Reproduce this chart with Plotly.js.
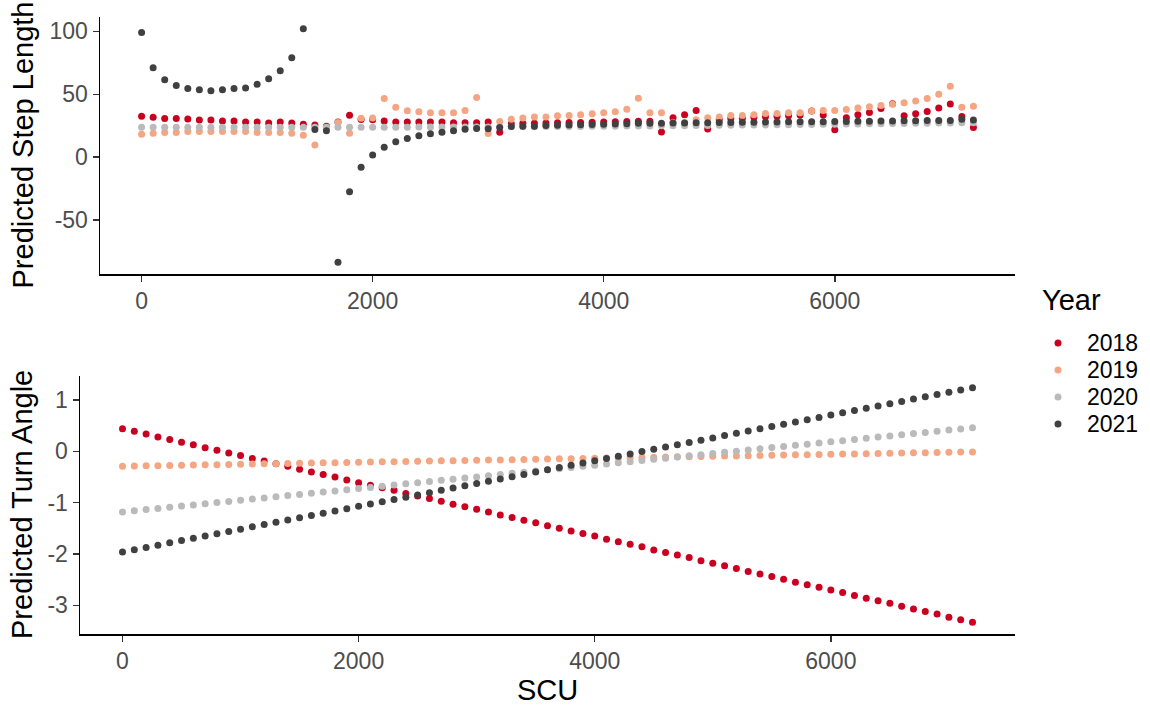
<!DOCTYPE html>
<html>
<head>
<meta charset="utf-8">
<script src="https://cdn.plot.ly/plotly-3.0.1.min.js"></script>
<style>
  html, body { margin: 0; padding: 0; background: #fff; }
  #chart { width: 1150px; height: 708px; }
</style>
</head>
<body>
<div id="chart"></div>
<script>
// SCU grid shared by both panels
const scu = [0,100,200,300,400,500,600,700,800,900,1000,1100,1200,1300,1400,1500,1600,1700,1800,1900,
  2000,2100,2200,2300,2400,2500,2600,2700,2800,2900,3000,3100,3200,3300,3400,3500,3600,3700,3800,3900,
  4000,4100,4200,4300,4400,4500,4600,4700,4800,4900,5000,5100,5200,5300,5400,5500,5600,5700,5800,5900,
  6000,6100,6200,6300,6400,6500,6600,6700,6800,6900,7000,7100,7200];

const years = ['2018', '2019', '2020', '2021'];
const yearColors = ['#CA0020', '#F4A582', '#BABABA', '#404040'];

// Predicted step length by year
const step2018 = [32.6,31.8,30.8,30.8,30.3,29.5,29.5,28.7,28.7,27.9,27.9,27.1,27.9,27.1,26.1,25.5,
  24.5,28.0,33.4,30.0,29.8,28.7,27.9,27.9,27.9,27.9,27.9,27.4,27.4,27.4,27.9,19.8,
  26.5,27.0,27.0,27.2,27.4,27.5,27.6,27.8,28.0,28.2,28.4,28.5,28.6,20.0,31.4,33.7,37.1,22.5,
  30.0,30.8,31.0,31.8,32.2,32.6,33.0,33.6,36.8,33.6,21.9,31.4,33.7,35.6,38.7,42.4,33.0,34.5,36.3,39.1,42.3,32.3,23.5];
const step2019 = [18.2,19.0,19.7,19.7,20.5,20.5,20.5,20.5,20.5,20.5,19.7,19.7,19.7,19.0,17.4,9.7,23.5,
  27.6,19.1,31.0,31.2,46.7,39.6,36.9,36.1,35.3,35.3,35.3,37.2,47.5,18.8,28.4,30.1,31.1,31.9,32.0,33.0,
  33.1,33.7,34.5,35.3,36.2,38.0,46.8,35.3,35.3,
  27.5,27.6,29.8,31.4,31.9,33.2,33.2,33.8,34.7,34.8,35.4,35.4,36.8,37.1,37.1,37.9,39.0,40.0,41.0,42.0,
  43.2,44.6,46.7,50.1,56.3,39.7,40.5];
const step2020 = [23.7,23.7,23.7,23.7,23.7,23.7,23.7,23.7,23.7,23.7,23.7,23.7,23.7,23.7,23.7,23.7,23.7,23.7,23.7,23.7,23.7,
  23.8,23.8,23.8,23.9,23.9,23.9,23.9,24.0,24.0,24.0,
  24.1,24.1,24.2,24.2,24.3,24.3,24.4,24.4,24.5,24.6,
  24.6,24.7,24.8,24.8,24.9,25.0,25.0,25.1,25.2,25.3,
  25.4,25.5,25.5,25.6,25.7,25.8,25.9,26.0,26.1,26.2,
  26.3,26.4,26.5,26.6,26.7,26.8,26.9,27.0,27.1,27.2,27.3,27.4];
const step2021 = [99.0,71.1,61.6,56.9,54.5,53.5,52.7,53.5,54.5,55.0,57.9,62.4,68.7,79.0,102.1,
  22.1,21.1,-83.5,-27.4,-7.9,1.8,7.9,12.2,14.8,17.0,18.6,19.9,21.1,22.2,22.9,22.7,23.6,
  24.3,24.5,24.6,25.1,25.3,25.5,25.8,25.9,26.1,26.4,26.6,26.9,26.9,27.0,27.1,27.2,27.3,27.4,
  27.5,27.6,27.7,27.8,27.9,28.0,28.1,28.1,28.2,28.2,28.3,28.4,28.5,28.6,28.7,28.8,28.9,29.0,29.1,29.2,29.2,30.2,29.6];

// Predicted turn angle by year
const turn2018 = [0.44,0.39,0.34,0.28,0.23,0.18,0.13,0.07,0.02,-0.03,
  -0.08,-0.14,-0.19,-0.24,-0.29,-0.35,-0.40,-0.45,-0.50,-0.56,
  -0.61,-0.66,-0.71,-0.76,-0.82,-0.87,-0.92,-0.97,-1.03,-1.08,
  -1.13,-1.18,-1.24,-1.29,-1.34,-1.39,-1.45,-1.50,-1.55,-1.60,
  -1.65,-1.71,-1.76,-1.81,-1.86,-1.92,-1.97,-2.02,-2.07,-2.13,
  -2.18,-2.23,-2.28,-2.34,-2.39,-2.44,-2.49,-2.55,-2.60,-2.65,
  -2.70,-2.75,-2.81,-2.86,-2.91,-2.96,-3.02,-3.07,-3.12,-3.17,
  -3.23,-3.28,-3.33];
const turn2019 = [-0.290,-0.286,-0.282,-0.278,-0.274,-0.271,-0.267,-0.263,-0.259,-0.255,
  -0.251,-0.247,-0.243,-0.239,-0.236,-0.232,-0.228,-0.224,-0.220,-0.216,
  -0.212,-0.208,-0.204,-0.201,-0.197,-0.193,-0.189,-0.185,-0.181,-0.177,
  -0.173,-0.169,-0.166,-0.162,-0.158,-0.154,-0.150,-0.146,-0.142,-0.138,
  -0.134,-0.131,-0.127,-0.123,-0.119,-0.115,-0.111,-0.107,-0.103,-0.099,
  -0.096,-0.092,-0.088,-0.084,-0.080,-0.076,-0.072,-0.068,-0.064,-0.061,
  -0.057,-0.053,-0.049,-0.045,-0.041,-0.037,-0.033,-0.029,-0.026,-0.022,
  -0.018,-0.014,-0.010];
const turn2020 = [-1.180,-1.157,-1.134,-1.112,-1.089,-1.066,-1.043,-1.021,-0.998,-0.975,
  -0.952,-0.929,-0.907,-0.884,-0.861,-0.838,-0.816,-0.793,-0.770,-0.747,
  -0.724,-0.702,-0.679,-0.656,-0.633,-0.611,-0.588,-0.565,-0.542,-0.519,
  -0.497,-0.474,-0.451,-0.428,-0.406,-0.383,-0.360,-0.337,-0.314,-0.292,
  -0.269,-0.246,-0.223,-0.201,-0.178,-0.155,-0.132,-0.109,-0.087,-0.064,
  -0.041,-0.018,0.004,0.027,0.050,0.073,0.096,0.118,0.141,0.164,
  0.187,0.209,0.232,0.255,0.278,0.301,0.323,0.346,0.369,0.392,
  0.414,0.437,0.460];
const turn2021 = [-1.960,-1.916,-1.871,-1.827,-1.782,-1.738,-1.693,-1.649,-1.604,-1.560,
  -1.516,-1.471,-1.427,-1.382,-1.338,-1.293,-1.249,-1.204,-1.160,-1.116,
  -1.071,-1.027,-0.982,-0.938,-0.893,-0.849,-0.804,-0.760,-0.716,-0.671,
  -0.627,-0.582,-0.538,-0.493,-0.449,-0.404,-0.360,-0.316,-0.271,-0.227,
  -0.182,-0.138,-0.093,-0.049,-0.004,0.040,0.084,0.129,0.173,0.218,
  0.262,0.307,0.351,0.396,0.440,0.484,0.529,0.573,0.618,0.662,
  0.707,0.751,0.796,0.840,0.884,0.929,0.973,1.018,1.062,1.107,
  1.151,1.196,1.240];

// Tick labels
const xTickVals = [0, 2000, 4000, 6000];
const xTickText = ['0', '2000', '4000', '6000'];
const stepTickVals = [-50, 0, 50, 100];
const stepTickText = ['-50', '0', '50', '100'];
const turnTickVals = [-3, -2, -1, 0, 1];
const turnTickText = ['-3', '-2', '-1', '0', '1'];

const stepSeries = [step2018, step2019, step2020, step2021];
const turnSeries = [turn2018, turn2019, turn2020, turn2021];

const W = 1150, H = 708;
const FONT = '"Liberation Sans", Arial, sans-serif';
const TICK_SIZE = 23;
const TITLE_SIZE = 29;

// Padded range (5% each side) around a set of series
function paddedRange(seriesList) {
  const all = [].concat(...seriesList);
  const lo = Math.min(...all), hi = Math.max(...all);
  const pad = (hi - lo) * 0.05;
  return [lo - pad, hi + pad];
}
const xRange = paddedRange([scu]);

const traces = [];
years.forEach((yr, k) => {
  traces.push({
    type: 'scatter', mode: 'markers', x: scu, y: stepSeries[k],
    xaxis: 'x', yaxis: 'y', name: yr, showlegend: false,
    marker: { color: yearColors[k], size: 7, line: { width: 0 } },
    hoverinfo: 'skip'
  });
});
years.forEach((yr, k) => {
  traces.push({
    type: 'scatter', mode: 'markers', x: scu, y: turnSeries[k],
    xaxis: 'x2', yaxis: 'y2', name: yr, showlegend: false,
    marker: { color: yearColors[k], size: 7, line: { width: 0 } },
    hoverinfo: 'skip'
  });
});

function px2x(p) { return p / W; }
function px2y(p) { return 1 - p / H; }

const axisBase = {
  showline: true, linecolor: '#000', linewidth: 1.5,
  ticks: 'outside', ticklen: 6, tickwidth: 1.5, tickcolor: '#333',
  showgrid: false, zeroline: false, fixedrange: true,
  tickfont: { family: FONT, size: TICK_SIZE, color: '#4D4D4D' },
  tickmode: 'array'
};

const annotations = [
  { text: 'Predicted Step Length', textangle: -90, x: px2x(22), y: px2y(145.5),
    xref: 'paper', yref: 'paper', showarrow: false, xanchor: 'center', yanchor: 'middle',
    font: { family: FONT, size: TITLE_SIZE, color: '#000' } },
  { text: 'Predicted Turn Angle', textangle: -90, x: px2x(22), y: px2y(505),
    xref: 'paper', yref: 'paper', showarrow: false, xanchor: 'center', yanchor: 'middle',
    font: { family: FONT, size: TITLE_SIZE, color: '#000' } },
  { text: 'SCU', x: px2x(547.5), y: px2y(690),
    xref: 'paper', yref: 'paper', showarrow: false, xanchor: 'center', yanchor: 'middle',
    font: { family: FONT, size: TITLE_SIZE, color: '#000' } },
  { text: 'Year', x: px2x(1040), y: px2y(300),
    xref: 'paper', yref: 'paper', showarrow: false, xanchor: 'left', yanchor: 'middle',
    font: { family: FONT, size: TITLE_SIZE, color: '#000' } }
];

// Legend keys
const shapes = [];
const keyY = [343, 370, 397, 424];
years.forEach((yr, k) => {
  const cx = 1058, cy = keyY[k], r = 3.5;
  shapes.push({ type: 'circle', xref: 'paper', yref: 'paper',
    x0: px2x(cx - r), x1: px2x(cx + r), y0: px2y(cy + r), y1: px2y(cy - r),
    fillcolor: yearColors[k], line: { width: 0 } });
  annotations.push({ text: yr, x: px2x(1085), y: px2y(cy), xref: 'paper', yref: 'paper',
    showarrow: false, xanchor: 'left', yanchor: 'middle',
    font: { family: FONT, size: TICK_SIZE, color: '#000' } });
});

const layout = {
  width: W, height: H,
  margin: { l: 0, r: 0, t: 0, b: 0, pad: 0 },
  paper_bgcolor: '#fff', plot_bgcolor: '#fff',
  showlegend: false,
  xaxis: Object.assign({}, axisBase, {
    domain: [px2x(100), px2x(1015)], anchor: 'y', range: xRange,
    tickvals: xTickVals, ticktext: xTickText }),
  yaxis: Object.assign({}, axisBase, {
    domain: [px2y(274), px2y(17)], anchor: 'x', range: paddedRange(stepSeries),
    tickvals: stepTickVals, ticktext: stepTickText }),
  xaxis2: Object.assign({}, axisBase, {
    domain: [px2x(80), px2x(1015)], anchor: 'y2', range: xRange,
    tickvals: xTickVals, ticktext: xTickText }),
  yaxis2: Object.assign({}, axisBase, {
    domain: [px2y(634), px2y(376)], anchor: 'x2', range: paddedRange(turnSeries),
    tickvals: turnTickVals, ticktext: turnTickText }),
  annotations: annotations,
  shapes: shapes
};

Plotly.newPlot('chart', traces, layout, { staticPlot: true, displayModeBar: false });
</script>
</body>
</html>
